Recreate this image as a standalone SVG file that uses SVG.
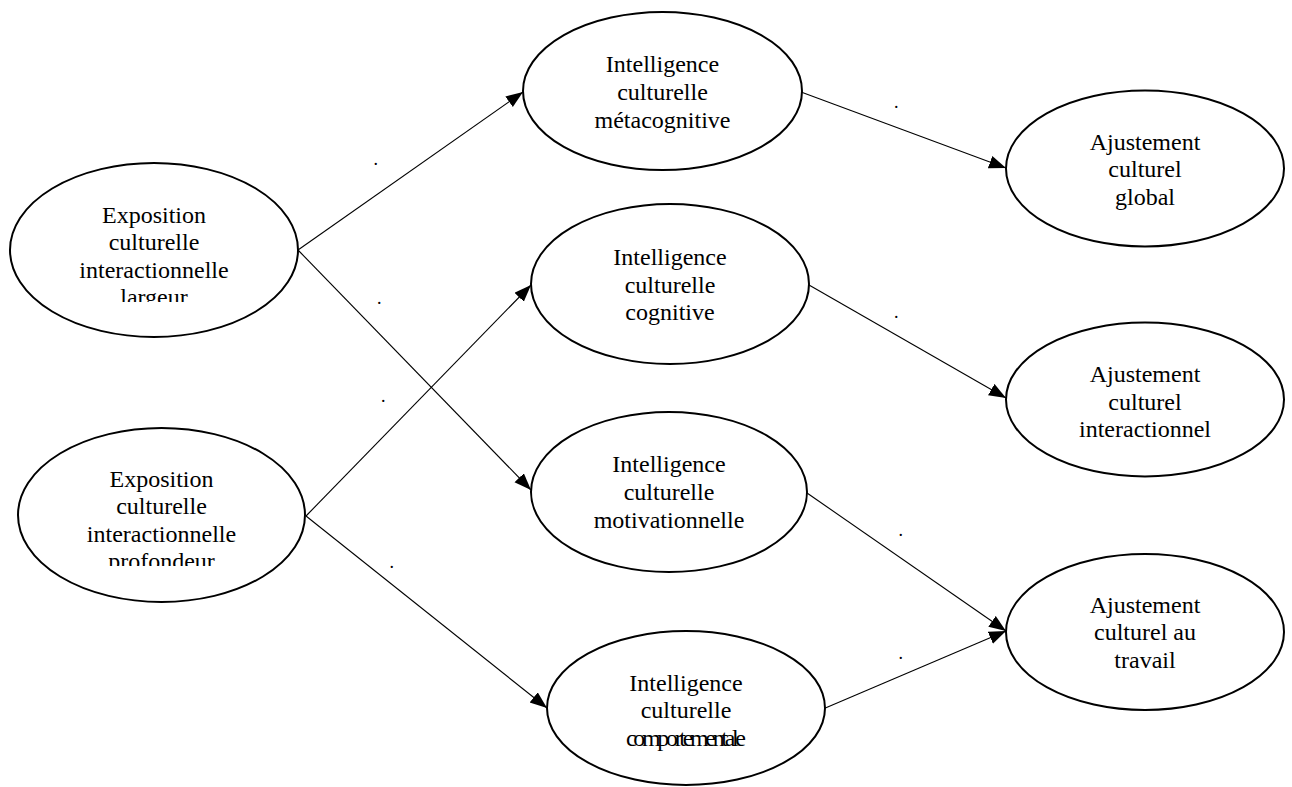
<svg xmlns="http://www.w3.org/2000/svg" width="1292" height="787" viewBox="0 0 1292 787">
<style>
.node ellipse{fill:#fff;stroke:#000;stroke-width:2}
.node text{font-family:"Liberation Serif","Times New Roman",serif;font-size:24px;fill:#000;text-anchor:middle}
.conn line{stroke:#000;stroke-width:1.1;marker-end:url(#arr)}
.dot{font-family:"Liberation Serif","Times New Roman",serif;font-size:18px;fill:#000}
</style>
<defs>
<marker id="arr" markerUnits="userSpaceOnUse" markerWidth="18" markerHeight="14" refX="17" refY="6.5" orient="auto">
<path d="M0,0 L17,6.5 L0,13 z" fill="#000"/>
</marker>
<clipPath id="clipA"><rect x="0" y="150" width="320" height="152"/></clipPath>
<clipPath id="clipB"><rect x="0" y="420" width="320" height="146"/></clipPath>
</defs>
<rect width="1292" height="787" fill="#fff"/>
<g class="conn">
<line x1="298" y1="250" x2="523" y2="92"/>
<line x1="298" y1="250" x2="531" y2="490"/>
<line x1="306" y1="516" x2="531" y2="285"/>
<line x1="306" y1="516" x2="547" y2="708"/>
<line x1="801" y1="92" x2="1006" y2="168"/>
<line x1="809" y1="285" x2="1006" y2="398"/>
<line x1="807" y1="493" x2="1006" y2="631"/>
<line x1="823" y1="709" x2="1006" y2="631"/>
</g>
<g id="labels">
<text class="dot" x="373.5" y="165">.</text>
<text class="dot" x="377" y="304">.</text>
<text class="dot" x="381" y="402">.</text>
<text class="dot" x="389.5" y="567.5">.</text>
<text class="dot" x="894" y="107.5">.</text>
<text class="dot" x="894" y="317.5">.</text>
<text class="dot" x="898.5" y="536">.</text>
<text class="dot" x="898.5" y="658.5">.</text>
</g>
<g id="n-largeur" class="node">
<ellipse cx="154" cy="250" rx="144" ry="87"/>
<g clip-path="url(#clipA)">
<text x="154" y="223">Exposition</text>
<text x="154" y="250">culturelle</text>
<text x="154" y="278">interactionnelle</text>
<text x="154" y="305">largeur</text>
</g>
</g>
<g id="n-profondeur" class="node">
<ellipse cx="161.5" cy="515" rx="143.5" ry="87"/>
<g clip-path="url(#clipB)">
<text x="161.5" y="487">Exposition</text>
<text x="161.5" y="514">culturelle</text>
<text x="161.5" y="542">interactionnelle</text>
<text x="161.5" y="569">profondeur</text>
</g>
</g>
<g id="n-metacognitive" class="node">
<ellipse cx="662.5" cy="91" rx="139.5" ry="79"/>
<text x="662.5" y="72">Intelligence</text>
<text x="662.5" y="99.5">culturelle</text>
<text x="662.5" y="127.5">métacognitive</text>
</g>
<g id="n-cognitive" class="node">
<ellipse cx="670" cy="284" rx="139" ry="80"/>
<text x="670" y="265">Intelligence</text>
<text x="670" y="292.5">culturelle</text>
<text x="670" y="320">cognitive</text>
</g>
<g id="n-motivationnelle" class="node">
<ellipse cx="669" cy="492" rx="138" ry="80"/>
<text x="669" y="472">Intelligence</text>
<text x="669" y="500">culturelle</text>
<text x="669" y="528">motivationnelle</text>
</g>
<g id="n-comportementale" class="node">
<ellipse cx="686" cy="708" rx="139" ry="77"/>
<text x="686" y="690.5">Intelligence</text>
<text x="686" y="718">culturelle</text>
<text x="686" y="746" textLength="120" lengthAdjust="spacing">comportementale</text>
</g>
<g id="n-global" class="node">
<ellipse cx="1145" cy="168.5" rx="139" ry="78"/>
<text x="1145" y="150">Ajustement</text>
<text x="1145" y="177">culturel</text>
<text x="1145" y="205">global</text>
</g>
<g id="n-interactionnel" class="node">
<ellipse cx="1145" cy="399.5" rx="139" ry="77"/>
<text x="1145" y="381.5">Ajustement</text>
<text x="1145" y="409.5">culturel</text>
<text x="1145" y="437">interactionnel</text>
</g>
<g id="n-travail" class="node">
<ellipse cx="1145" cy="632" rx="139" ry="78"/>
<text x="1145" y="612.5">Ajustement</text>
<text x="1145" y="640">culturel au</text>
<text x="1145" y="668">travail</text>
</g>
</svg>
